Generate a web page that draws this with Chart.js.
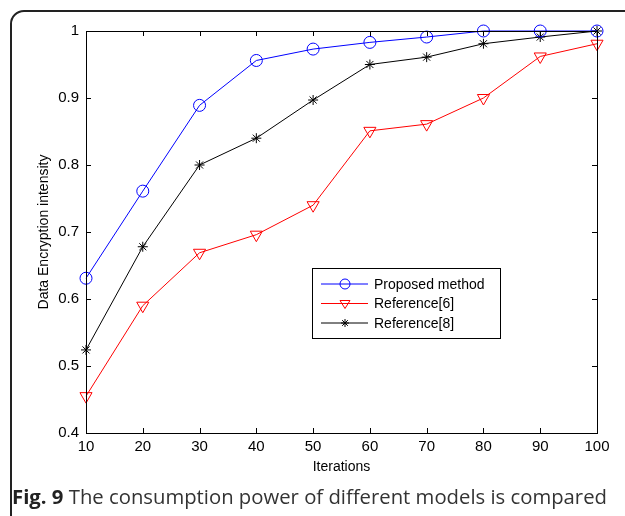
<!DOCTYPE html>
<html>
<head>
<meta charset="utf-8">
<script src="https://cdn.jsdelivr.net/npm/chart.js@4"></script>
<style>
    html, body { margin: 0; padding: 0; background: #fff; }
    #wrap { position: relative; width: 625px; height: 516px; overflow: hidden; }
    #frame { position: absolute; left: 10px; top: 10px; width: 700px; height: 600px;
             border: 2px solid #222; border-radius: 14px; }
    #cv { position: absolute; left: 0; top: 0; }
    #caption { position: absolute; left: 12px; top: 482px; font-family: "Open Sans"; font-size: 20.3px;
               color: #333; white-space: nowrap; line-height: 28px; }
    #caption b { color: #222; }
</style>
</head>
<body>
<div id="wrap">
    <div id="frame"></div>
    <canvas id="cv" width="625" height="516"></canvas>
    <div id="caption"><b>Fig. 9</b> The consumption power of different models is compared</div>
</div>
<script>
    const iterations = [10, 20, 30, 40, 50, 60, 70, 80, 90, 100];
    const proposed = [0.631, 0.761, 0.889, 0.956, 0.973, 0.983, 0.991, 1.0, 1.0, 1.0];
    const ref6 = [0.455, 0.590, 0.669, 0.696, 0.740, 0.851, 0.861, 0.900, 0.962, 0.981];
    const ref8 = [0.524, 0.678, 0.800, 0.840, 0.897, 0.950, 0.961, 0.981, 0.991, 1.0];
    const seriesNames = ["Proposed method", "Reference[6]", "Reference[8]"];

    const FONT = "Liberation Sans, Arial, sans-serif";

    function toPoints(ys) {
        return iterations.map((x, i) => ({ x: x, y: ys[i] }));
    }

    function drawMarker(ctx, style, x, y, r) {
        ctx.beginPath();
        if (style === "circle") {
            ctx.arc(x, y, r, 0, Math.PI * 2);
        } else if (style === "triangle") {
            ctx.moveTo(x - r, y - r * 0.6);
            ctx.lineTo(x + r, y - r * 0.6);
            ctx.lineTo(x, y + r);
            ctx.closePath();
        } else {
            for (let k = 0; k < 4; k++) {
                const a = k * Math.PI / 4;
                ctx.moveTo(x - r * Math.cos(a), y - r * Math.sin(a));
                ctx.lineTo(x + r * Math.cos(a), y + r * Math.sin(a));
            }
        }
        ctx.stroke();
    }

    // MATLAB-style box with inward ticks, plus the legend inside the axes
    const boxPlugin = {
        id: "box",
        afterDatasetsDraw(chart) {
            const { ctx, chartArea: a, scales } = chart;
            ctx.save();
            ctx.strokeStyle = "#000";
            ctx.lineWidth = 1;
            ctx.strokeRect(a.left + 0.5, a.top + 0.5, a.right - a.left, a.bottom - a.top);
            ctx.beginPath();
            scales.x.ticks.forEach(t => {
                const px = Math.round(scales.x.getPixelForValue(t.value)) + 0.5;
                ctx.moveTo(px, a.bottom); ctx.lineTo(px, a.bottom - 5);
                ctx.moveTo(px, a.top); ctx.lineTo(px, a.top + 5);
            });
            scales.y.ticks.forEach(t => {
                const py = Math.round(scales.y.getPixelForValue(t.value)) + 0.5;
                ctx.moveTo(a.left, py); ctx.lineTo(a.left + 5, py);
                ctx.moveTo(a.right, py); ctx.lineTo(a.right - 5, py);
            });
            ctx.stroke();
            ctx.restore();
        },
        afterDraw(chart) {
            const { ctx, chartArea: a } = chart;
            const lx = a.left + 226, ly = a.top + 237, lw = 188, lh = 70;
            ctx.save();
            ctx.fillStyle = "#fff";
            ctx.fillRect(lx, ly, lw, lh);
            ctx.strokeStyle = "#000";
            ctx.lineWidth = 1;
            ctx.strokeRect(lx + 0.5, ly + 0.5, lw, lh);
            ctx.font = "14px " + FONT;
            ctx.textBaseline = "middle";
            chart.data.datasets.forEach((ds, i) => {
                const y = ly + 16 + i * 19.5;
                ctx.strokeStyle = ds.borderColor;
                ctx.beginPath();
                ctx.moveTo(lx + 9, y); ctx.lineTo(lx + 56, y);
                ctx.stroke();
                drawMarker(ctx, ds.markerKind, lx + 33, y, ds.markerKind === "star" ? 4 : 5);
                ctx.fillStyle = "#000";
                ctx.fillText(ds.label, lx + 62, y + 1);
            });
            ctx.restore();
        }
    };

    function makeDataset(label, ys, color, kind, radius) {
        return {
            label: label,
            data: toPoints(ys),
            borderColor: color,
            backgroundColor: "rgba(0,0,0,0)",
            borderWidth: 1,
            pointStyle: kind,
            pointRotation: kind === "triangle" ? 180 : 0,
            pointRadius: radius,
            pointBorderWidth: 1,
            pointBorderColor: color,
            pointBackgroundColor: "rgba(0,0,0,0)",
            tension: 0,
            clip: false,
            markerKind: kind
        };
    }

    new Chart(document.getElementById("cv"), {
        type: "line",
        data: {
            datasets: [
                makeDataset(seriesNames[0], proposed, "#0000ff", "circle", 6),
                makeDataset(seriesNames[1], ref6, "#ff0000", "triangle", 7),
                makeDataset(seriesNames[2], ref8, "#000000", "star", 5)
            ]
        },
        options: {
            responsive: false,
            animation: false,
            layout: { padding: { left: 36, right: 28, top: 31, bottom: 40 } },
            plugins: { legend: { display: false }, tooltip: { enabled: false } },
            scales: {
                x: {
                    type: "linear",
                    min: 10, max: 100,
                    afterFit: s => { s.height = 43; },
                    grid: { display: false, drawTicks: false },
                    border: { display: false },
                    ticks: { stepSize: 10, color: "#000", font: { family: FONT, size: 15 }, padding: 5, maxRotation: 0 },
                    title: { display: true, text: "Iterations", color: "#000",
                             font: { family: FONT, size: 14 }, padding: { top: 0, bottom: 0 } }
                },
                y: {
                    min: 0.4, max: 1,
                    afterFit: s => { s.width = 50; },
                    grid: { display: false, drawTicks: false },
                    border: { display: false },
                    ticks: { stepSize: 0.1, color: "#000", font: { family: FONT, size: 15 }, padding: 7,
                             callback: v => String(Number(v.toFixed(1))) },
                    title: { display: true, text: "Data Encryption intensity", color: "#000",
                             font: { family: FONT, size: 14 }, padding: { top: 0, bottom: 0 } }
                }
            }
        },
        plugins: [boxPlugin]
    });
</script>
</body>
</html>
